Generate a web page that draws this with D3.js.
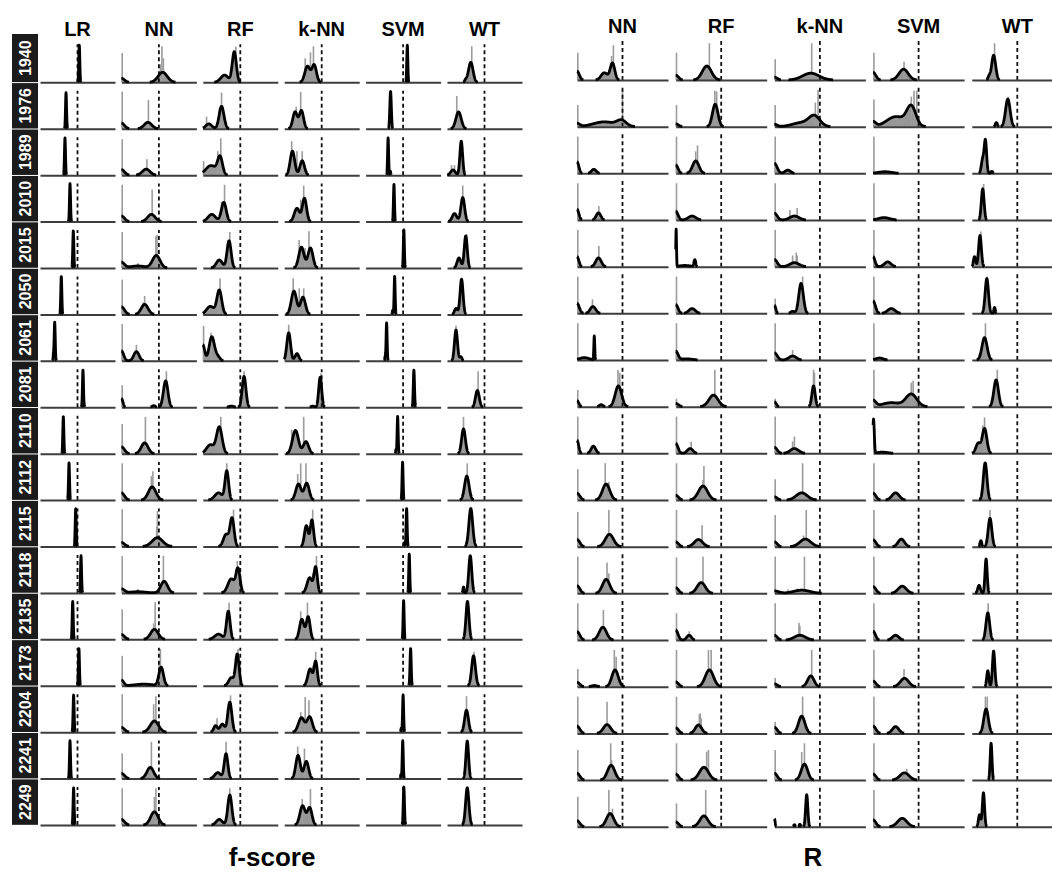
<!DOCTYPE html>
<html>
<head>
<meta charset="utf-8">
<script src="https://cdn.jsdelivr.net/npm/d3@7"></script>
<style>
  html, body { margin: 0; padding: 0; background: #fff; }
  svg { display: block; font-family: "Liberation Sans", Arial, sans-serif; }
</style>
</head>
<body>
<svg id="chart" width="1052" height="873"></svg>
<script>
// ---------------- data ----------------
const years = ["1940","1976","1989","2010","2015","2050","2061","2081","2110","2112","2115","2118","2135","2173","2204","2241","2249"];
const fMethods = ["LR","NN","RF","k-NN","SVM","WT"];
const rMethods = ["NN","RF","k-NN","SVM","WT"];
const panelTitles = ["f-score","R"];
const refValue = 0.5; // dashed reference line (cell-relative position)

// Each row: [densityComponents, tallHistogramBins]
// densityComponent = [centre, spread, peakHeight]; bin = [position, height]
const fLR = [
 [[[.524,.007,.93]],[]],
 [[[.347,.007,.9]],[]],
 [[[.333,.007,.93]],[]],
 [[[.40,.007,.95]],[]],
 [[[.444,.007,.93]],[]],
 [[[.284,.007,.95]],[]],
 [[[.196,.007,.97],[.18,.005,.15]],[]],
 [[[.573,.007,.93]],[]],
 [[[.311,.007,.93]],[]],
 [[[.387,.007,.93]],[]],
 [[[.476,.007,.95]],[]],
 [[[.547,.007,.93]],[]],
 [[[.436,.007,.95]],[]],
 [[[.519,.007,.93]],[]],
 [[[.448,.007,.93]],[]],
 [[[.40,.007,.95]],[]],
 [[[.448,.007,.93]],[]]
];
const fNN = [
 [[[0,.04,.1],[.55,.06,.25]],[[0,.73],[.54,.9],[.56,.6],[.52,.45]]],
 [[[0,.04,.14],[.354,.05,.16]],[[0,.93],[.36,.72]]],
 [[[0,.04,.14],[.33,.05,.15]],[[0,.9],[.34,.4]]],
 [[[0,.04,.14],[.40,.05,.18]],[[0,.92],[.41,.8]]],
 [[[0,.04,.14],[.22,.1,.05],[.465,.05,.31]],[[0,.9],[.46,.79],[.475,.83],[.22,.12]]],
 [[[0,.04,.19],[.31,.045,.25]],[[0,.87],[.31,.46],[.29,.3]]],
 [[[0,.03,.25],[.2,.035,.23]],[[0,.92],[.2,.4]]],
 [[[0,.02,.22],[.43,.02,.04],[.59,.03,.66]],[[0,.55],[.6,.9],[.57,.5]]],
 [[[0,.04,.17],[.31,.045,.27]],[[0,.74],[.32,.92]]],
 [[[0,.04,.18],[.41,.05,.33]],[[0,.92],[.42,.72],[.40,.6]]],
 [[[0,.04,.1],[.48,.07,.22]],[[0,.93],[.48,.89],[.47,.5]]],
 [[[0,.04,.1],[.22,.1,.03],[.57,.045,.29]],[[0,.92],[.56,.93],[.22,.1]]],
 [[[0,.04,.12],[.44,.05,.25]],[[0,.75],[.45,.93],[.43,.4]]],
 [[[0,.03,.14],[.3,.12,.04],[.53,.03,.46]],[[0,.75],[.52,.92],[.5,.6]]],
 [[[0,.04,.12],[.44,.055,.28]],[[0,.95],[.46,.9],[.43,.7]]],
 [[[0,.04,.13],[.385,.045,.28]],[[0,.63],[.4,.92]]],
 [[[0,.04,.14],[.44,.05,.33]],[[0,.92],[.46,.92],[.44,.7]]]
];
const fRF = [
 [[[.29,.05,.18],[.42,.027,.76]],[[.44,.89],[.40,.6]]],
 [[[.08,.04,.12],[.25,.032,.56]],[[.25,.9],[.22,.5],[.05,.3]]],
 [[[.11,.07,.24],[.23,.032,.43]],[[.24,.92],[.01,.35],[.2,.6]]],
 [[[.12,.05,.18],[.28,.032,.48]],[[.29,.92],[.25,.5]]],
 [[[.22,.04,.2],[.35,.027,.68]],[[.36,.9],[.33,.6]]],
 [[[.1,.05,.2],[.22,.032,.6]],[[.23,.9],[.2,.55]]],
 [[[0,.025,.4],[.12,.035,.6],[.2,.03,.1]],[[0,.87],[.11,.7]]],
 [[[.38,.03,.03],[.55,.025,.77]],[[.55,.9],[.52,.5]]],
 [[[.1,.05,.22],[.22,.037,.66]],[[.24,.92],[.2,.6]]],
 [[[.21,.05,.18],[.32,.024,.72]],[[.32,.92],[.3,.6]]],
 [[[.31,.035,.3],[.39,.027,.7]],[[.41,.92],[.37,.6]]],
 [[[.38,.045,.35],[.47,.027,.58]],[[.46,.8],[.44,.6]]],
 [[[.21,.05,.13],[.34,.024,.7]],[[.35,.92],[.32,.5]]],
 [[[.38,.035,.2],[.46,.024,.78]],[[.47,.92],[.44,.7]]],
 [[[.17,.025,.16],[.26,.03,.2],[.36,.027,.75]],[[.37,.92],[.19,.35],[.33,.6]]],
 [[[.2,.04,.15],[.31,.024,.62]],[[.31,.92],[.28,.45]]],
 [[[.22,.04,.14],[.36,.027,.75]],[[.36,.92],[.33,.55]]]
];
const fKNN = [
 [[[.31,.035,.4],[.4,.03,.43]],[[.39,.9],[.35,.75],[.28,.6]]],
 [[[.145,.03,.42],[.23,.028,.45]],[[.22,.92],[.16,.55]]],
 [[[.11,.03,.6],[.24,.03,.36]],[[.1,.85],[.17,.6],[.24,.6]]],
 [[[.17,.035,.33],[.27,.028,.58]],[[.26,.9],[.22,.55]]],
 [[[.23,.035,.52],[.35,.033,.5]],[[.33,.92],[.2,.7],[.28,.5]]],
 [[[.13,.035,.58],[.25,.033,.43]],[[.12,.9],[.2,.65],[.26,.65]]],
 [[[.06,.025,.7],[.17,.025,.18]],[[.06,.9]]],
 [[[.38,.02,.03],[.48,.02,.75]],[[.49,.85],[.47,.6]]],
 [[[.15,.04,.58],[.29,.035,.3]],[[.26,.92],[.1,.6]]],
 [[[.19,.035,.4],[.3,.033,.42]],[[.22,.92],[.29,.92],[.18,.65]]],
 [[[.295,.025,.52],[.37,.022,.66]],[[.38,.92],[.32,.5]]],
 [[[.34,.035,.38],[.42,.022,.63]],[[.43,.92],[.38,.5]]],
 [[[.235,.03,.5],[.32,.025,.56]],[[.31,.92],[.22,.7]]],
 [[[.345,.03,.42],[.42,.022,.6]],[[.42,.85],[.38,.5]]],
 [[[.23,.04,.36],[.34,.035,.38]],[[.28,.88],[.33,.8],[.22,.5]]],
 [[[.185,.03,.58],[.295,.03,.43]],[[.18,.8],[.27,.75]]],
 [[[.245,.035,.48],[.34,.03,.43]],[[.35,.9],[.24,.65]]]
];
const fSVM = [
 [[[.556,.007,.93]],[]],
 [[[.333,.01,.93]],[]],
 [[[.30,.007,.93],[.33,.005,.1]],[]],
 [[[.378,.007,.93]],[]],
 [[[.51,.007,.95]],[]],
 [[[.387,.007,.95],[.36,.005,.1]],[]],
 [[[.28,.007,.95],[.26,.005,.1]],[]],
 [[[.644,.008,.93]],[]],
 [[[.427,.007,.93],[.405,.005,.1]],[]],
 [[[.493,.007,.95]],[]],
 [[[.547,.007,.95],[.52,.005,.1]],[]],
 [[[.582,.007,.97]],[]],
 [[[.507,.007,.97]],[]],
 [[[.6,.008,.93]],[]],
 [[[.5,.007,.93],[.475,.005,.1]],[]],
 [[[.495,.007,.95],[.47,.005,.1]],[]],
 [[[.51,.008,.95]],[]]
];
const fWT = [
 [[[.317,.03,.5],[.25,.015,.05]],[[.33,.9]]],
 [[[.154,.035,.42]],[[.13,.82]]],
 [[[.08,.03,.13],[.19,.018,.85]],[[.06,.25],[.1,.25]]],
 [[[.1,.03,.2],[.21,.025,.6]],[[.21,.9]]],
 [[[.16,.025,.25],[.25,.02,.8]],[[.26,.85]]],
 [[[.12,.02,.15],[.194,.02,.88]],[]],
 [[[.12,.02,.77],[.185,.015,.1]],[[.12,.88]]],
 [[[.405,.025,.42]],[[.415,.9]]],
 [[[.22,.025,.62]],[[.22,.92]]],
 [[[.264,.03,.6]],[[.27,.92]]],
 [[[.317,.025,.95]],[]],
 [[[.22,.008,.15],[.31,.02,.93]],[]],
 [[[.273,.02,.95]],[]],
 [[[.354,.025,.75]],[[.36,.85]]],
 [[[.26,.025,.55]],[[.26,.9]]],
 [[[.27,.018,.94]],[]],
 [[[.27,.022,.93]],[]]
];
const rNN = [
 [[[0,.025,.22],[.3,.035,.18],[.39,.025,.42]],[[0,.68],[.4,.87],[.38,.6]]],
 [[[0,.03,.08],[.3,.12,.12],[.49,.05,.14]],[[0,.54],[.5,.92]]],
 [[[0,.02,.29],[.185,.025,.1]],[[0,.92]]],
 [[[0,.02,.27],[.236,.025,.18]],[[0,.92],[.24,.35]]],
 [[[0,.02,.25],[.236,.03,.22]],[[0,.92],[.24,.52]]],
 [[[0,.025,.25],[.175,.03,.17]],[[0,.92],[.17,.35]]],
 [[[.08,.05,.06],[.19,.005,.6]],[[0,.92]]],
 [[[0,.02,.15],[.265,.02,.05],[.455,.035,.52]],[[0,.42],[.45,.92],[.47,.85]]],
 [[[0,.018,.33],[.18,.025,.18]],[[0,.92]]],
 [[[0,.03,.17],[.32,.04,.4]],[[0,.77],[.31,.92],[.35,.45]]],
 [[[0,.03,.18],[.356,.045,.31]],[[0,.87],[.35,.92]]],
 [[[0,.03,.19],[.32,.04,.35]],[[0,.92],[.33,.77],[.35,.5]]],
 [[[0,.03,.21],[.284,.04,.32]],[[0,.92],[.29,.75]]],
 [[[0,.03,.11],[.19,.03,.03],[.418,.035,.42]],[[0,.44],[.41,.92],[.43,.75]]],
 [[[0,.03,.18],[.33,.04,.22]],[[0,.92],[.33,.79]]],
 [[[0,.03,.17],[.375,.04,.37]],[[0,.75],[.37,.92],[.38,.5]]],
 [[[0,.03,.15],[.364,.04,.33]],[[0,.75],[.35,.92],[.39,.45]]]
];
const rRF = [
 [[[0,.03,.12],[.342,.05,.35]],[[0,.68],[.37,.92]]],
 [[[0,.03,.07],[.434,.03,.56]],[[0,.54],[.43,.9],[.45,.88]]],
 [[[0,.025,.21],[.22,.035,.31]],[[0,.92],[.24,.7],[.22,.55]]],
 [[[0,.025,.22],[.18,.04,.1]],[[0,.92]]],
 [[[.005,.004,.93],[.1,.06,.03],[.21,.01,.17]],[]],
 [[[0,.025,.22],[.18,.035,.12]],[[0,.92]]],
 [[[0,.025,.22],[.12,.06,.03]],[[0,.92]]],
 [[[0,.03,.08],[.415,.05,.29]],[[0,.2],[.43,.92]]],
 [[[0,.025,.25],[.158,.03,.12]],[[0,.92],[.17,.29]]],
 [[[0,.03,.12],[.3,.05,.35]],[[0,.92],[.31,.85],[.3,.5]]],
 [[[0,.03,.12],[.25,.045,.18]],[[0,.92],[.29,.54]]],
 [[[0,.03,.14],[.28,.045,.27]],[[0,.9],[.3,.92]]],
 [[[0,.025,.25],[.147,.025,.12]],[[0,.67],[.15,.22]]],
 [[[0,.03,.12],[.37,.045,.42]],[[0,.92],[.36,.92],[.39,.92]]],
 [[[0,.03,.14],[.25,.035,.21]],[[0,.92],[.26,.48],[.28,.38],[.27,.5]]],
 [[[0,.03,.15],[.31,.05,.32]],[[0,.92],[.34,.71],[.36,.75]]],
 [[[0,.03,.12],[.31,.045,.27]],[[0,.58],[.33,.92]]]
];
const rKNN = [
 [[[0,.03,.07],[.40,.09,.17]],[[0,.52],[.41,.92]]],
 [[[0,.03,.06],[.3,.1,.1],[.44,.06,.25]],[[0,.54],[.48,.92],[.45,.6]]],
 [[[0,.03,.25],[.147,.03,.08]],[[0,.92]]],
 [[[0,.03,.17],[.22,.05,.1]],[[0,.92],[.17,.25],[.25,.3]]],
 [[[0,.03,.18],[.22,.05,.1]],[[0,.92],[.2,.28],[.24,.35],[.25,.28]]],
 [[[0,.015,.2],[.2,.02,.05],[.293,.025,.75]],[[0,.37],[.31,.92]]],
 [[[0,.03,.18],[.2,.04,.1]],[[0,.92],[.2,.25]]],
 [[[0,.02,.12],[.43,.018,.52]],[[0,.2],[.43,.92],[.44,.85]]],
 [[[0,.03,.15],[.22,.045,.12]],[[0,.92],[.22,.42],[.2,.3]]],
 [[[0,.03,.08],[.3,.06,.18]],[[0,.52],[.31,.92]]],
 [[[0,.03,.12],[.34,.06,.19]],[[0,.79],[.35,.92],[.32,.28]]],
 [[[0,.05,.06],[.3,.09,.08]],[[0,.92],[.33,.92],[.15,.1],[.25,.12]]],
 [[[0,.03,.12],[.28,.06,.12]],[[0,.92],[.27,.43],[.28,.35]]],
 [[[0,.03,.07],[.40,.035,.27]],[[0,.22],[.41,.92]]],
 [[[0,.03,.15],[.3,.035,.43]],[[0,.29],[.31,.92],[.28,.4]]],
 [[[0,.03,.17],[.33,.035,.4]],[[0,.75],[.33,.92],[.3,.7]]],
 [[[0,.008,.2],[.22,.008,.05],[.28,.008,.06],[.355,.012,.8]],[]]
];
const rSVM = [
 [[[0,.03,.19],[.335,.05,.27]],[[0,.68],[.34,.46]]],
 [[[0,.03,.12],[.25,.1,.25],[.42,.05,.48]],[[0,.68],[.45,.9],[.48,.9],[.42,.75]]],
 [[[.13,.07,.04]],[[0,.92]]],
 [[[.12,.06,.06]],[[0,.92]]],
 [[[0,.02,.25],[.16,.035,.12]],[[0,.92]]],
 [[[0,.025,.31],[.2,.04,.12]],[[0,.92]]],
 [[[.07,.04,.05]],[[0,.92]]],
 [[[0,.03,.15],[.2,.1,.1],[.42,.06,.31]],[[0,.92],[.42,.6],[.44,.65]]],
 [[[.005,.008,.85],[.1,.06,.03]],[]],
 [[[0,.03,.17],[.247,.04,.18]],[[0,.92]]],
 [[[0,.03,.17],[.31,.035,.19]],[[0,.92]]],
 [[[0,.03,.17],[.32,.045,.18]],[[0,.92]]],
 [[[0,.025,.22],[.247,.035,.12]],[[0,.92]]],
 [[[0,.03,.14],[.345,.045,.21]],[[0,.92],[.34,.44]]],
 [[[0,.03,.18],[.247,.035,.17]],[[0,.92]]],
 [[[0,.03,.15],[.345,.05,.18]],[[0,.92],[.37,.28]]],
 [[[0,.03,.17],[.32,.05,.21]],[[0,.92]]]
];
const rWT = [
 [[[.19,.012,.08],[.24,.022,.62]],[[.25,.92]]],
 [[[.27,.012,.1],[.396,.025,.69]],[[.4,.75]]],
 [[[.12,.015,.35],[.15,.013,.8],[.22,.01,.05]],[]],
 [[[.12,.015,.78]],[[.13,.9]]],
 [[[.03,.012,.25],[.09,.015,.78]],[[.1,.88]]],
 [[[.165,.018,.87],[.25,.008,.15]],[[.17,.92]]],
 [[[.14,.028,.56]],[[.15,.92]]],
 [[[.267,.025,.67]],[[.28,.92]]],
 [[[.07,.025,.25],[.14,.025,.62]],[[.12,.7],[.14,.9]]],
 [[[.147,.02,.93]],[]],
 [[[.1,.01,.15],[.2,.02,.71]],[[.2,.92]]],
 [[[.08,.015,.2],[.157,.012,.86]],[]],
 [[[.176,.02,.68]],[[.18,.92]]],
 [[[.176,.012,.4],[.24,.013,.89]],[[.23,.92]]],
 [[[.157,.025,.61]],[[.15,.92],[.17,.92]]],
 [[[.212,.01,.92]],[]],
 [[[.085,.012,.3],[.128,.012,.85]],[]]
];

const fColumns = [fLR, fNN, fRF, fKNN, fSVM, fWT];
const rColumns = [rNN, rRF, rKNN, rSVM, rWT];

// ---------------- drawing ----------------
const svg = d3.select("#chart");
const FONT = '"Liberation Sans", Arial, sans-serif';

const panels = [
  { methods: fMethods, columns: fColumns, x0: 40, pitch: 81.4, width: 75,
    base0: 82.3, rowPitch: 46.42, headerY: 35.5, titleX: 272 },
  { methods: rMethods, columns: rColumns, x0: 577, pitch: 98.7, width: 91,
    base0: 80, rowPitch: 46.67, headerY: 33, titleX: 813 }
];
const cellH = 40;
const samples = d3.range(0, 1.00001, 1/600);

function dens(comps, x) {
  return d3.sum(comps, c => c[2] * Math.exp(-0.5 * ((x - c[0]) / c[1]) ** 2));
}

panels.forEach((p, pi) => {
  const colX = d3.scaleLinear().domain([0, 1]).range([p.x0, p.x0 + p.pitch]);
  const rowY = d3.scaleLinear().domain([0, 1]).range([p.base0, p.base0 + p.rowPitch]);
  const g = svg.append("g");

  // headers
  p.methods.forEach((m, ci) => {
    g.append("text")
      .attr("x", colX(ci) + p.width / 2)
      .attr("y", p.headerY)
      .attr("text-anchor", "middle")
      .attr("font-family", FONT).attr("font-weight", "bold").attr("font-size", 20)
      .attr("fill", "#000")
      .text(m);
  });

  // bottom title
  g.append("text")
    .attr("x", p.titleX).attr("y", 866)
    .attr("text-anchor", "middle")
    .attr("font-family", FONT).attr("font-weight", "bold").attr("font-size", 26)
    .attr("fill", "#000")
    .text(panelTitles[pi]);

  p.columns.forEach((col, ci) => {
    const cx0 = colX(ci);
    const x = d3.scaleLinear().domain([0, 1]).range([cx0, cx0 + p.width]);
    col.forEach((cell, ri) => {
      const base = rowY(ri);
      const y = d3.scaleLinear().domain([0, 1]).range([base, base - cellH]);
      const cg = g.append("g");
      const comps = cell[0], bins = cell[1];
      const pts = samples.map(s => [s, dens(comps, s)]);

      // gray histogram body
      cg.append("path")
        .attr("fill", "#979797")
        .attr("d", d3.area().defined(d => d[1] > 0.004)
          .x(d => x(d[0])).y0(base).y1(d => y(d[1]))(pts));

      // tall histogram bins
      cg.selectAll("rect.bin").data(bins).enter().append("rect")
        .attr("class", "bin")
        .attr("x", d => Math.max(cx0, x(d[0]) - 0.8))
        .attr("width", 1.6)
        .attr("y", d => y(d[1]))
        .attr("height", d => base - y(d[1]))
        .attr("fill", "#9c9c9c");

      // dashed reference line
      cg.append("line")
        .attr("x1", x(refValue)).attr("x2", x(refValue))
        .attr("y1", base).attr("y2", base - (pi === 0 ? 38 : 39.5))
        .attr("stroke", "#111").attr("stroke-width", 1.8)
        .attr("stroke-dasharray", "4,3");

      // axis (baseline)
      const ax = cg.append("g")
        .attr("transform", `translate(0,${base})`)
        .call(d3.axisBottom(x).ticks(0).tickSizeOuter(0));
      ax.select(".domain").attr("stroke", "#3d3d3d").attr("stroke-width", 2);

      // density curve
      cg.append("path")
        .attr("fill", "none")
        .attr("stroke", "#000")
        .attr("stroke-width", 2.8)
        .attr("stroke-linejoin", "round")
        .attr("stroke-linecap", "butt")
        .attr("d", d3.line().defined(d => d[1] > 0.004)
          .x(d => x(d[0])).y(d => y(d[1]))(pts));
    });
  });

  // row labels (left panel only)
  if (pi === 0) {
    years.forEach((yr, ri) => {
      const base = rowY(ri);
      const top = ri === 0 ? 34 : rowY(ri - 1) + 0.8;
      const bot = base - 0.2;
      g.append("rect")
        .attr("x", 12).attr("width", 26)
        .attr("y", top).attr("height", bot - top)
        .attr("fill", "#1b1b1b");
      g.append("text")
        .attr("transform", `translate(${25.8},${(top + bot) / 2}) rotate(-90)`)
        .attr("text-anchor", "middle")
        .attr("dominant-baseline", "central")
        .attr("font-family", FONT).attr("font-weight", "bold").attr("font-size", 16)
        .attr("fill", "#fff")
        .text(yr);
    });
  }
});
</script>
</body>
</html>
